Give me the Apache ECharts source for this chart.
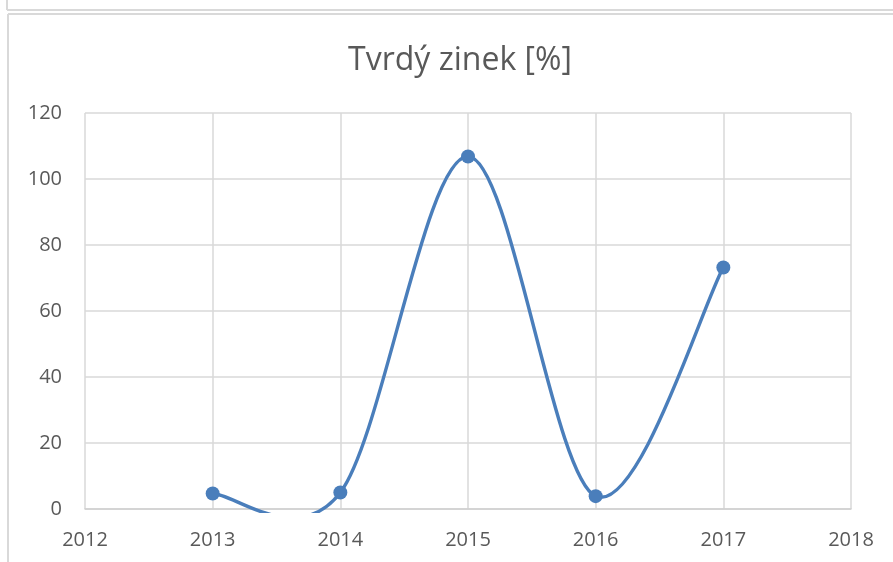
<!DOCTYPE html>
<html><head><meta charset="utf-8">
<script src="https://cdn.jsdelivr.net/npm/echarts@6/dist/echarts.min.js"></script>
<style>html,body{margin:0;padding:0;background:#fff}#c{width:893px;height:562px}</style>
</head><body><div id="c"></div>
<script>
const titleText = 'Tvrdý zinek [%]';
const years = [2013, 2014, 2015, 2016, 2017];
const values = [4.7, 5.0, 106.8, 3.9, 73.2];
const xMin = 2012, xMax = 2018, xStep = 1;
const yMin = 0, yMax = 120, yStep = 20;

const lineColor = '#4a7ebb';
const chart = echarts.init(document.getElementById('c'), null, {renderer: 'canvas'});
const font = '"Open Sans", "Liberation Sans", sans-serif';

function renderCurve(params, api) {
  if (params.dataIndex !== 0) return null;
  const pts = years.map((x, i) => api.coord([x, values[i]]));
  const n = pts.length;
  const cs = params.coordSys;
  const children = [];
  for (let i = 0; i < n - 1; i++) {
    const p0 = pts[Math.max(i - 1, 0)], p1 = pts[i], p2 = pts[i + 1], p3 = pts[Math.min(i + 2, n - 1)];
    children.push({
      type: 'bezierCurve',
      shape: {
        x1: p1[0], y1: p1[1], x2: p2[0], y2: p2[1],
        cpx1: p1[0] + (p2[0] - p0[0]) / 6, cpy1: p1[1] + (p2[1] - p0[1]) / 6,
        cpx2: p2[0] - (p3[0] - p1[0]) / 6, cpy2: p2[1] - (p3[1] - p1[1]) / 6
      },
      style: {stroke: lineColor, lineWidth: 3.4, fill: null, lineCap: 'round'}
    });
  }
  return {
    type: 'group',
    clipPath: {type: 'rect', shape: {x: cs.x - 10, y: cs.y - 10, width: cs.width + 20, height: cs.height + 14}},
    children
  };
}

chart.setOption({
  animation: false,
  backgroundColor: '#fff',
  title: {
    text: titleText, left: 455, top: 40, textAlign: 'center',
    textStyle: {fontFamily: font, fontSize: 32, fontWeight: 'normal', color: '#595959'}
  },
  graphic: [
    {type: 'line', shape: {x1: 7, y1: 10, x2: 893, y2: 10}, style: {stroke: '#d9d9d9', lineWidth: 2}},
    {type: 'line', shape: {x1: 7, y1: 0, x2: 7, y2: 10}, style: {stroke: '#d9d9d9', lineWidth: 2}},
    {type: 'line', shape: {x1: 8, y1: 14, x2: 893, y2: 14}, style: {stroke: '#d9d9d9', lineWidth: 2}},
    {type: 'line', shape: {x1: 8, y1: 14, x2: 8, y2: 562}, style: {stroke: '#d9d9d9', lineWidth: 2}}
  ],
  grid: {left: 85, right: 42, top: 113, bottom: 53, containLabel: false},
  xAxis: {
    type: 'value', min: xMin, max: xMax, interval: xStep,
    axisLine: {show: true, lineStyle: {color: '#d0d0d0', width: 1.5}},
    axisTick: {show: false},
    splitLine: {show: true, lineStyle: {color: '#d9d9d9', width: 1.5}},
    axisLabel: {fontFamily: font, fontSize: 20, color: '#595959', margin: 21, formatter: v => String(v)}
  },
  yAxis: {
    type: 'value', min: yMin, max: yMax, interval: yStep,
    axisLine: {show: false},
    axisTick: {show: false},
    splitLine: {show: true, lineStyle: {color: '#d9d9d9', width: 1.5}},
    axisLabel: {fontFamily: font, fontSize: 20, color: '#595959', margin: 23}
  },
  series: [{
    type: 'custom',
    renderItem: renderCurve,
    clip: false,
    data: years.map((y, i) => [y, values[i]]),
    encode: {x: 0, y: 1},
    z: 2
  }, {
    type: 'scatter',
    data: years.map((y, i) => [y, values[i]]),
    symbol: 'circle', symbolSize: 14,
    itemStyle: {color: lineColor, opacity: 1},
    z: 3
  }]
});
</script></body></html>
